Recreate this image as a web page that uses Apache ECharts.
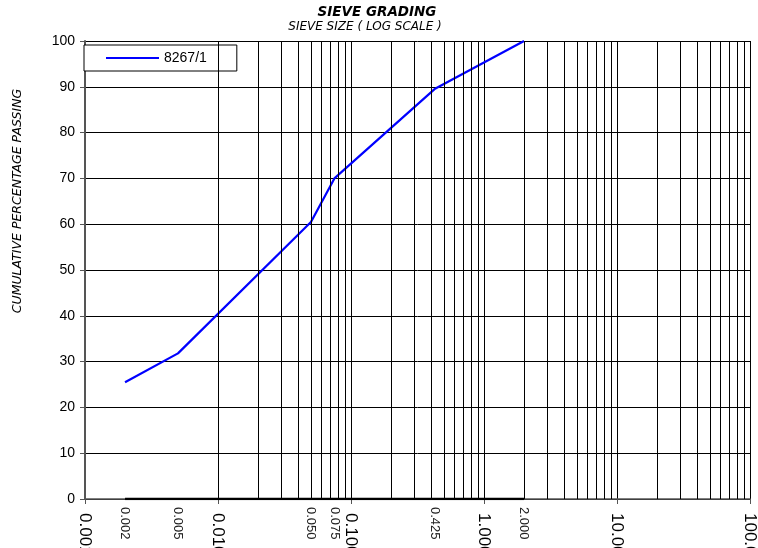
<!DOCTYPE html>
<html>
<head>
<meta charset="utf-8">
<script src="https://cdn.jsdelivr.net/npm/echarts@6/dist/echarts.min.js"></script>
<style>
  html, body { margin: 0; padding: 0; background: #fff; }
  #chart { width: 758px; height: 548px; }
</style>
</head>
<body>
<div id="chart"></div>
<script>
// sieve sizes (mm) and percentage passing
var sieveSizes = [0.002, 0.005, 0.05, 0.075, 0.425, 2.0];
var sieveLabels = ['0.002', '0.005', '0.050', '0.075', '0.425', '2.000'];
var passing = [25.5, 31.8, 60.5, 70, 89.5, 100];
var baseline = [0, 0, 0, 0, 0, 0];
var seriesName = '8267/1';

// log grid: decades and the minor multipliers in between
var decades = [0.001, 0.01, 0.1, 1, 10];
var multipliers = [2, 3, 4, 5, 6, 7, 8, 9];

var minorLines = [];
for (var i = 0; i < decades.length; i++) {
  for (var j = 0; j < multipliers.length; j++) {
    minorLines.push({ xAxis: decades[i] * multipliers[j] });
  }
}

var curve = [];
var base = [];
for (var k = 0; k < sieveSizes.length; k++) {
  curve.push([sieveSizes[k], passing[k]]);
  base.push({ value: [sieveSizes[k], baseline[k]], label: { formatter: sieveLabels[k] } });
}

var myChart = echarts.init(document.getElementById('chart'));
myChart.setOption({
  animation: false,
  title: [
    {
      text: 'SIEVE GRADING',
      left: 377,
      top: 5,
      textAlign: 'center',
      padding: 0,
      textStyle: { fontFamily: 'DejaVu Sans', fontSize: 13.5, fontWeight: 'bold', fontStyle: 'italic', color: '#000' }
    },
    {
      text: 'SIEVE SIZE ( LOG SCALE )',
      left: 365,
      top: 21,
      textAlign: 'center',
      padding: 0,
      textStyle: { fontFamily: 'DejaVu Sans', fontSize: 12, fontWeight: 'normal', fontStyle: 'italic', color: '#000' }
    }
  ],
  graphic: [
    {
      // y axis title, placed like the original (not centred on the axis)
      type: 'text',
      x: 18,
      y: 201,
      rotation: Math.PI / 2,
      style: {
        text: 'CUMULATIVE PERCENTAGE PASSING',
        fontFamily: 'DejaVu Sans',
        fontSize: 12.5,
        fontStyle: 'italic',
        fill: '#000',
        align: 'center',
        verticalAlign: 'middle'
      }
    }
  ],
  legend: {
    data: [{ name: seriesName, icon: 'rect' }],
    left: 84,
    top: 45,
    itemWidth: 53,
    itemHeight: 2,
    itemGap: 5,
    padding: [6, 30, 6, 22],
    backgroundColor: '#fff',
    borderColor: '#000',
    borderWidth: 1,
    textStyle: { fontFamily: 'Liberation Sans', fontSize: 14, color: '#000' }
  },
  grid: { left: 85, right: 8, top: 41, bottom: 49, outerBoundsMode: 'none', containLabel: false },
  xAxis: {
    type: 'log',
    logBase: 10,
    min: 0.001,
    max: 100,
    axisLine: { show: true, lineStyle: { color: '#555', width: 1.5 } },
    axisTick: { show: true, length: 5, lineStyle: { color: '#555' } },
    axisLabel: {
      rotate: -90,
      margin: 14,
      fontFamily: 'Liberation Sans',
      fontSize: 17,
      color: '#000',
      formatter: function (v) { return Number(v).toFixed(3); }
    },
    splitLine: { show: true, lineStyle: { color: '#000', width: 1 } }
  },
  yAxis: {
    type: 'value',
    min: 0,
    max: 100,
    interval: 10,
    axisLine: { show: true, lineStyle: { color: '#555', width: 2 } },
    axisTick: { show: true, length: 5, lineStyle: { color: '#555' } },
    axisLabel: { margin: 10, fontFamily: 'Liberation Sans', fontSize: 14, color: '#000' },
    splitLine: { show: true, lineStyle: { color: '#000', width: 1 } }
  },
  series: [
    {
      name: 'base',
      type: 'line',
      z: 3,
      data: base,
      symbol: 'circle',
      symbolSize: 0,
      lineStyle: { color: '#000', width: 2.5 },
      itemStyle: { color: '#000' },
      label: {
        show: true,
        position: 'bottom',
        distance: 8,
        rotate: -90,
        align: 'left',
        verticalAlign: 'middle',
        fontFamily: 'Liberation Sans',
        fontSize: 13,
        color: '#222'
      },
      markLine: {
        silent: true,
        symbol: ['none', 'none'],
        label: { show: false },
        lineStyle: { color: '#000', width: 1, type: 'solid' },
        data: minorLines
      }
    },
    {
      name: seriesName,
      type: 'line',
      z: 4,
      data: curve,
      symbol: 'none',
      lineStyle: { color: '#0000ff', width: 2.2 },
      itemStyle: { color: '#0000ff' }
    }
  ]
});
</script>
</body>
</html>
